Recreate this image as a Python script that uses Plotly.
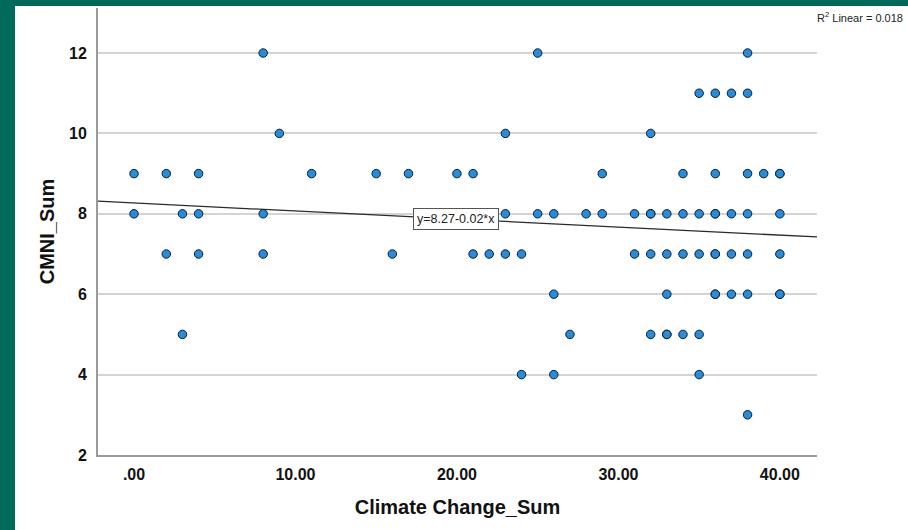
import numpy as np
import plotly.graph_objects as go

# ---- data ----
climate_change_sum = [
    8, 25, 38,                      # CMNI 12
    35, 36, 37, 38,                 # CMNI 11
    9, 23, 32,                      # CMNI 10
    0, 2, 4, 11, 15, 17, 20, 21, 29, 34, 36, 38, 39, 40, 40,   # CMNI 9
    0, 3, 4, 8, 23, 25, 26, 28, 29, 31, 32, 32, 33, 34, 35, 36, 36, 37, 38, 40,  # CMNI 8
    2, 4, 8, 16, 21, 22, 23, 24, 31, 32, 33, 34, 35, 36, 36, 37, 38, 40,        # CMNI 7
    26, 33, 36, 36, 37, 38, 40, 40,  # CMNI 6
    3, 27, 32, 33, 33, 34, 35,       # CMNI 5
    24, 26, 35,                      # CMNI 4
    38,                              # CMNI 3
]
cmni_sum = (
    [12] * 3 + [11] * 4 + [10] * 3 + [9] * 15 + [8] * 20 + [7] * 18
    + [6] * 8 + [5] * 7 + [4] * 3 + [3] * 1
)

fit_intercept = 8.27
fit_slope = -0.02
r2_linear = 0.018

x_tick_vals = [0, 10, 20, 30, 40]
x_tick_text = [".00", "10.00", "20.00", "30.00", "40.00"]
y_tick_vals = [2, 4, 6, 8, 10, 12]

x_range = [-2.23, 42.3]
y_range = [2, 13.12]

GREEN = "#006b5a"

L, R, T, B = 98, 91, 8, 75
W, H = 908, 530
pw, ph = W - L - R, H - T - B
def px(xp):
    return (xp - L) / pw
def py(yp):
    return 1 - (yp - T) / ph

fig = go.Figure()

fx = np.array(x_range)
fig.add_trace(go.Scatter(
    x=fx, y=fit_intercept + fit_slope * fx, mode="lines",
    line=dict(color="#2a2a2a", width=1.3), hoverinfo="skip", showlegend=False,
))

fig.add_trace(go.Scatter(
    x=climate_change_sum, y=cmni_sum, mode="markers",
    marker=dict(size=8.5, color="#1f8ee3", line=dict(color="#1a1a1a", width=1)),
    showlegend=False,
))

fig.add_annotation(
    x=19.95, y=7.87, xref="x", yref="y",
    text=f"y={fit_intercept:.2f}{fit_slope:+.2f}*x",
    showarrow=False, bgcolor="white", bordercolor="#555555", borderwidth=1,
    borderpad=3, font=dict(family="Liberation Sans, Arial", size=12.5, color="#222"),
)

fig.add_annotation(
    x=px(905), y=py(17), xref="paper", yref="paper",
    text=f"R<sup>2</sup> Linear = {r2_linear:.3f}",
    showarrow=False, xanchor="right", yanchor="middle",
    font=dict(family="Liberation Sans, Arial", size=11, color="#222"),
)

# green frame bands
fig.add_shape(type="rect", xref="paper", yref="paper",
              x0=px(0), x1=px(W), y0=py(0), y1=py(6),
              fillcolor=GREEN, line_width=0, layer="above")
fig.add_shape(type="rect", xref="paper", yref="paper",
              x0=px(0), x1=px(15), y0=py(0), y1=py(H),
              fillcolor=GREEN, line_width=0, layer="above")

fig.update_layout(
    width=W, height=H,
    margin=dict(l=L, r=R, t=T, b=B, pad=0),
    paper_bgcolor="white", plot_bgcolor="white",
    font=dict(family="Liberation Sans, Arial", color="#111"),
    xaxis=dict(
        range=x_range, tickvals=x_tick_vals, ticktext=x_tick_text,
        showgrid=False, zeroline=False, showline=True,
        linecolor="#9a9a9a", linewidth=2, ticks="",
        tickfont=dict(size=16, weight="bold"), ticklabelstandoff=4,
        title=dict(text="Climate Change_Sum", font=dict(size=20, weight="bold"), standoff=18),
    ),
    yaxis=dict(
        range=y_range, tickvals=y_tick_vals,
        showgrid=True, gridcolor="#d4d4d4", gridwidth=1.5,
        zeroline=False, showline=True,
        linecolor="#9a9a9a", linewidth=2, ticks="",
        tickfont=dict(size=16, weight="bold"), ticklabelstandoff=6,
        title=dict(text="CMNI_Sum", font=dict(size=20, weight="bold"), standoff=9),
    ),
)

fig.write_html("out.html")
